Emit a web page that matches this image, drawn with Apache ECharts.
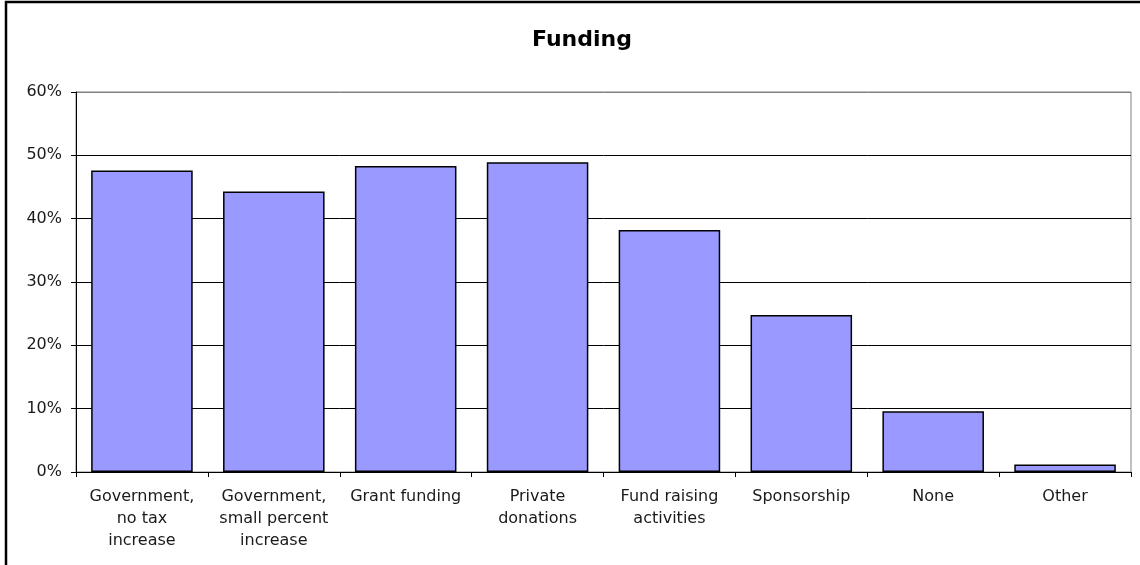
<!DOCTYPE html>
<html>
<head>
<meta charset="utf-8">
<script src="https://cdn.jsdelivr.net/npm/echarts@6/dist/echarts.min.js"></script>
<style>
html,body{margin:0;padding:0;background:#fff;}
#chart{width:1140px;height:565px;}
</style>
</head>
<body>
<div id="chart"></div>
<script>
const categories = [
  "Government,\nno tax\nincrease",
  "Government,\nsmall percent\nincrease",
  "Grant funding",
  "Private\ndonations",
  "Fund raising\nactivities",
  "Sponsorship",
  "None",
  "Other"
];
const values = [47.6, 44.3, 48.3, 48.9, 38.2, 24.8, 9.6, 1.2];
const titleText = "Funding";

const chart = echarts.init(document.getElementById('chart'));
chart.setOption({
  animation: false,
  backgroundColor: '#ffffff',
  title: {
    text: titleText,
    left: 577,
    top: 24,
    textAlign: 'center',
    textStyle: { fontFamily: 'DejaVu Sans', fontWeight: 'bold', fontSize: 22, color: '#000' }
  },
  graphic: [{
    type: 'polyline',
    shape: { points: [[6, 900], [6, 2], [1400, 2]] },
    style: { fill: null, stroke: '#000', lineWidth: 2.5 },
    silent: true,
    z: 100
  }],
  grid: {
    left: 76, right: 9, top: 92, bottom: 93,
    show: true, borderColor: '#808080', borderWidth: 1, backgroundColor: 'transparent'
  },
  xAxis: {
    type: 'category',
    data: categories,
    axisLine: { show: true, lineStyle: { color: '#000', width: 1 } },
    axisTick: { show: true, length: 5, lineStyle: { color: '#000' } },
    axisLabel: {
      interval: 0, margin: 14, color: '#1a1a1a',
      fontFamily: 'DejaVu Sans', fontSize: 16, lineHeight: 22, align: 'center'
    }
  },
  yAxis: {
    type: 'value',
    min: 0, max: 60, interval: 10,
    axisLine: { show: true, lineStyle: { color: '#000', width: 1 } },
    axisTick: { show: true, length: 5, lineStyle: { color: '#000' } },
    axisLabel: { formatter: '{value}%', margin: 14, color: '#1a1a1a', fontFamily: 'DejaVu Sans', fontSize: 16 },
    splitLine: { show: true, lineStyle: { color: ['#000', '#000', '#000', '#000', '#000', '#000', '#808080'], width: 1 } }
  },
  series: [{
    type: 'bar',
    data: values,
    barCategoryGap: '23%',
    itemStyle: { color: '#9999ff', borderColor: '#000', borderWidth: 1.5 }
  }]
});
</script>
</body>
</html>
